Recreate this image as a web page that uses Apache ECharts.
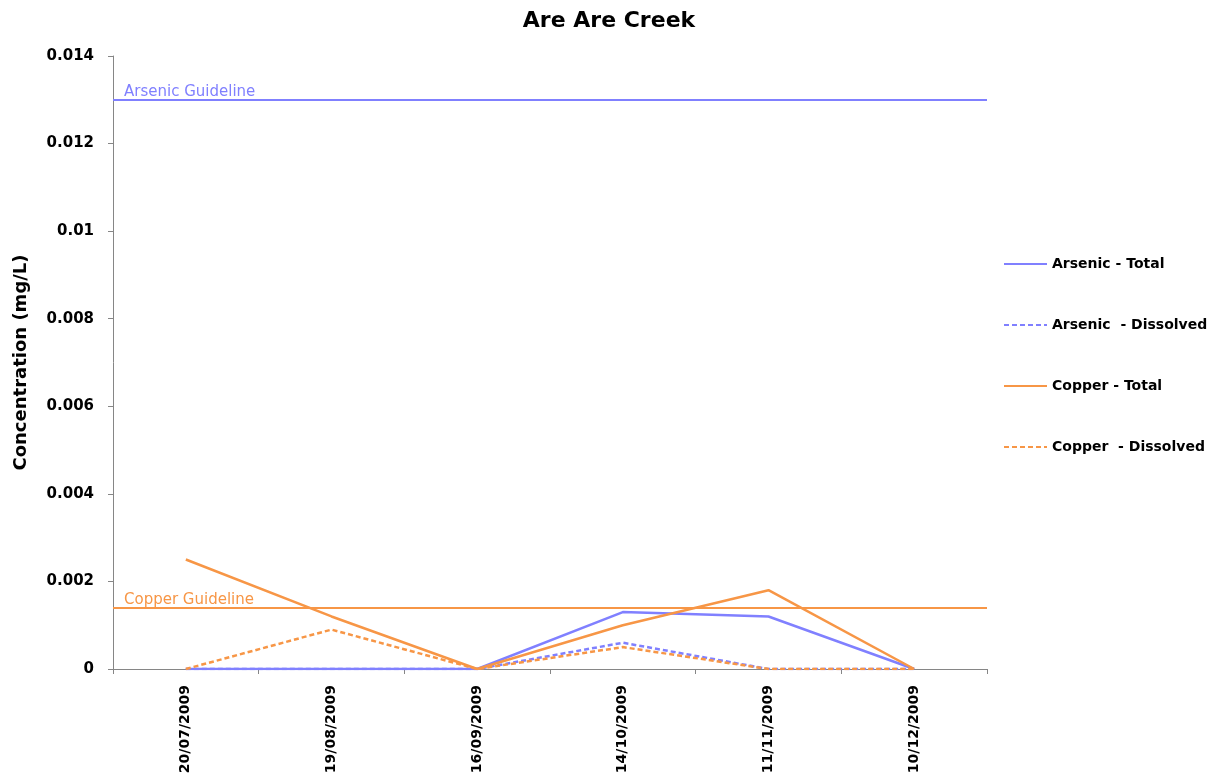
<!DOCTYPE html>
<html>
<head>
<meta charset="utf-8">
<script src="https://cdn.jsdelivr.net/npm/echarts@6/dist/echarts.min.js"></script>
<style>html,body{margin:0;padding:0;background:#fff}#c{width:1209px;height:778px}</style>
</head>
<body>
<div id="c"></div>
<script>
var categories = ['20/07/2009','19/08/2009','16/09/2009','14/10/2009','11/11/2009','10/12/2009'];
var arsenicTotal = [0, 0, 0, 0.0013, 0.0012, 0];
var arsenicDissolved = [0, 0, 0, 0.0006, 0, 0];
var copperTotal = [0.0025, 0.0012, 0, 0.001, 0.0018, 0];
var copperDissolved = [0, 0.0009, 0, 0.0005, 0, 0];
var arsenicGuideline = 0.013;
var copperGuideline = 0.0014;
var yTicks = [0, 0.002, 0.004, 0.006, 0.008, 0.01, 0.012, 0.014];

var AS = '#8080FF', CU = '#F79646';
var FONT = 'DejaVu Sans';
function line(name, data, color, dashed, mark) {
  var s = {
    name: name, type: 'line', data: data, symbol: 'none',
    lineStyle: {color: color, width: 2.5, type: dashed ? [5, 3] : 'solid'},
    itemStyle: {color: color}, z: 3
  };
  if (mark) s.markLine = mark;
  return s;
}
function guide(value, label, color) {
  return {
    silent: true, symbol: 'none', animation: false, precision: 6,
    lineStyle: {color: color, width: 2, type: 'solid'},
    label: {show: true, position: 'insideStartTop', formatter: label, color: color,
      fontFamily: FONT, fontSize: 15, distance: [11, 0]},
    data: [{yAxis: value}]
  };
}
var chart = echarts.init(document.getElementById('c'));
chart.setOption({
  animation: false,
  title: {text: 'Are Are Creek', left: 604, top: 5, textAlign: 'center',
    textStyle: {fontFamily: FONT, fontSize: 22, fontWeight: 'bold', color: '#000'}},
  grid: {left: 113, right: 222, top: 56, bottom: 109},
  legend: {
    orient: 'vertical', left: 1003, top: 257, padding: 0, itemGap: 47, itemWidth: 43, itemHeight: 14,
    itemStyle: {opacity: 0},
    textStyle: {fontFamily: FONT, fontSize: 14, lineHeight: 14, fontWeight: 'bold', color: '#000'},
    data: ['Arsenic - Total', 'Arsenic  - Dissolved', 'Copper - Total', 'Copper  - Dissolved']
  },
  xAxis: {
    type: 'category', data: categories, boundaryGap: true,
    axisLine: {lineStyle: {color: '#868686', width: 1}},
    axisTick: {show: true, length: 5, inside: false, lineStyle: {color: '#868686'}},
    axisLabel: {rotate: 90, margin: 16, fontFamily: FONT, fontSize: 14, fontWeight: 'bold', color: '#000'}
  },
  yAxis: {
    type: 'value', min: 0, max: 0.014, interval: 0.002,
    name: 'Concentration (mg/L)', nameLocation: 'middle', nameGap: 83, nameRotate: 90,
    nameTextStyle: {fontFamily: FONT, fontSize: 18, fontWeight: 'bold', color: '#000'},
    axisLine: {show: true, lineStyle: {color: '#868686', width: 1}},
    axisTick: {show: true, length: 5, lineStyle: {color: '#868686'}},
    splitLine: {show: false},
    axisLabel: {margin: 19, fontFamily: FONT, fontSize: 15, fontWeight: 'bold', color: '#000',
      formatter: function (v) { var i = yTicks.indexOf(v); return i >= 0 ? String(+yTicks[i].toFixed(4)) : ''; }}
  },
  series: [
    line('Arsenic - Total', arsenicTotal, AS, false, guide(arsenicGuideline, 'Arsenic Guideline', AS)),
    line('Arsenic  - Dissolved', arsenicDissolved, AS, true),
    line('Copper - Total', copperTotal, CU, false, guide(copperGuideline, 'Copper Guideline', CU)),
    line('Copper  - Dissolved', copperDissolved, CU, true)
  ]
});
</script>
</body>
</html>
